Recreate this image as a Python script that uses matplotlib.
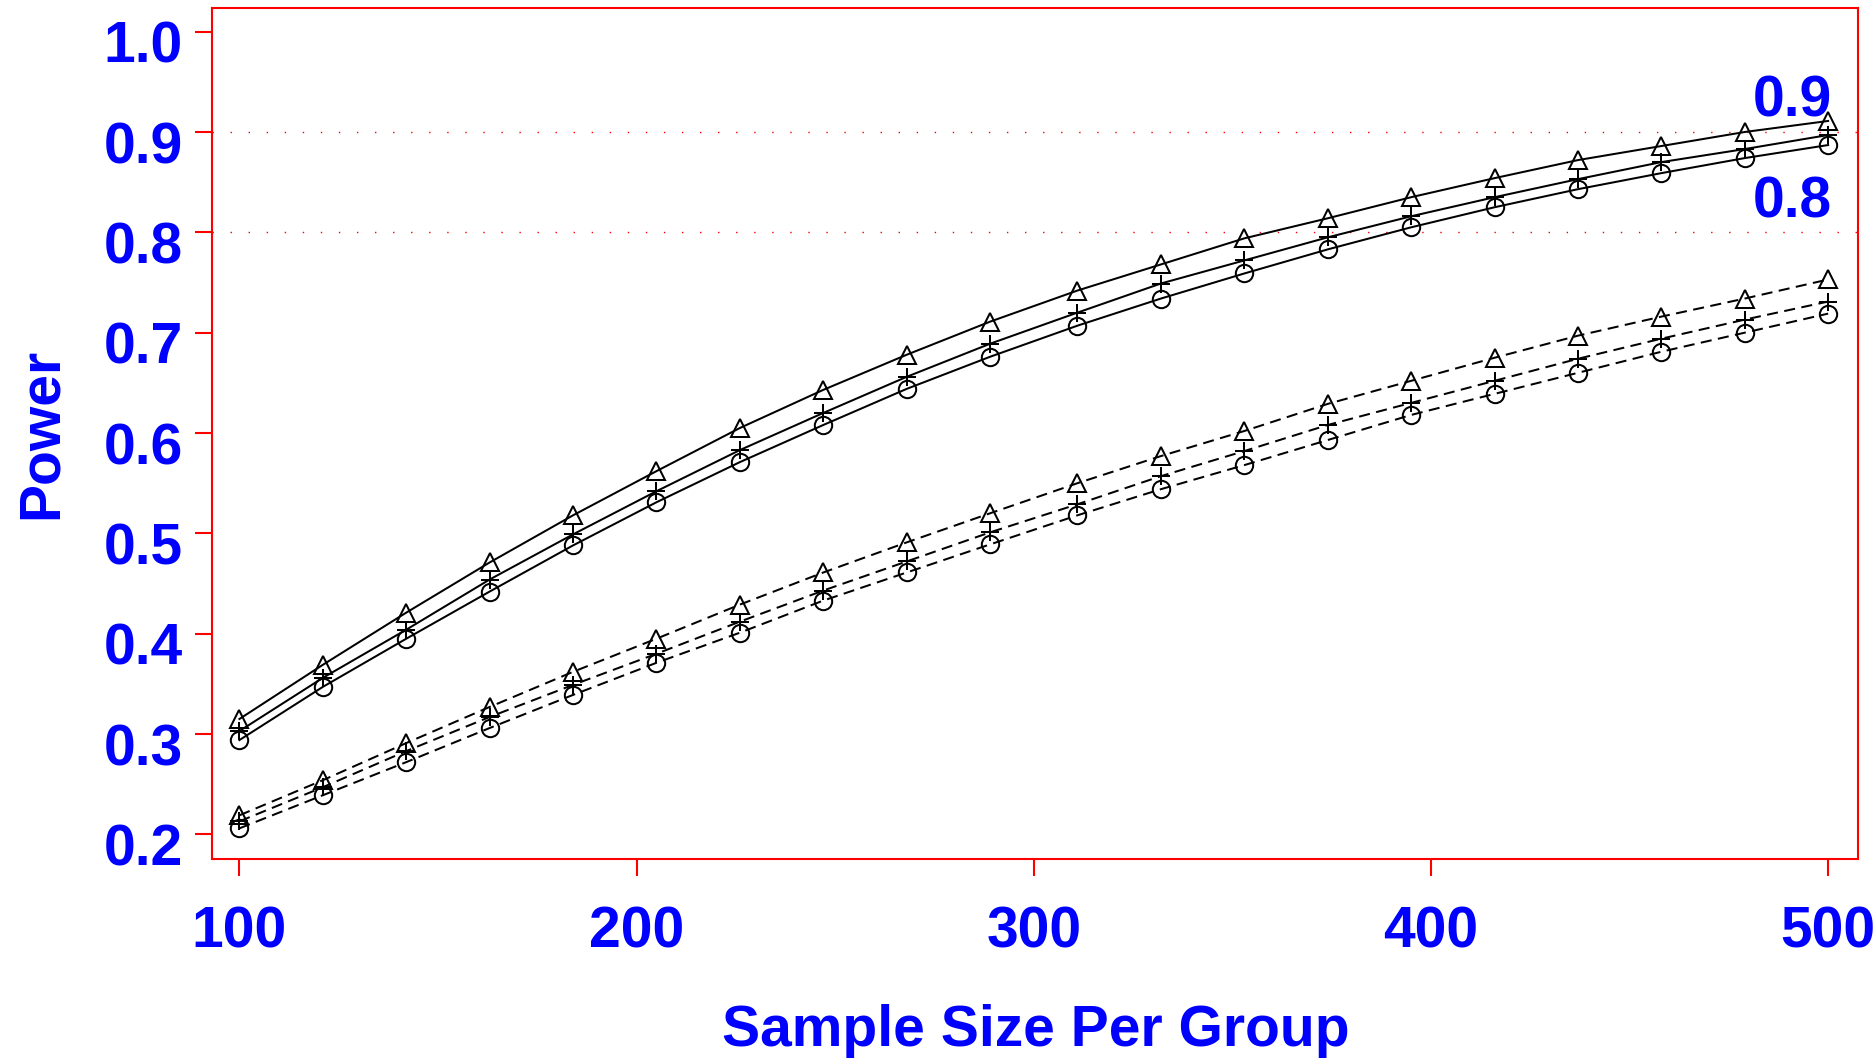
import matplotlib
matplotlib.use("Agg")
import matplotlib.pyplot as plt
from matplotlib.transforms import ScaledTranslation

# Sample sizes per group
sample_size = [100, 121, 142, 163, 184, 205, 226, 247, 268, 289,
               311, 332, 353, 374, 395, 416, 437, 458, 479, 500]

# Power curves, upper group (solid lines)
power_solid_tri = [0.315, 0.369, 0.421, 0.471, 0.518, 0.562, 0.605, 0.643, 0.678, 0.711,
                   0.742, 0.768, 0.794, 0.814, 0.835, 0.854, 0.872, 0.886, 0.900, 0.911]
power_solid_plus = [0.303, 0.356, 0.404, 0.454, 0.499, 0.542, 0.583, 0.620, 0.656, 0.689,
                    0.720, 0.749, 0.772, 0.795, 0.816, 0.835, 0.853, 0.870, 0.883, 0.897]
power_solid_circ = [0.294, 0.347, 0.395, 0.442, 0.488, 0.531, 0.571, 0.608, 0.644, 0.676,
                    0.707, 0.734, 0.759, 0.783, 0.805, 0.825, 0.843, 0.859, 0.874, 0.887]

# Power curves, lower group (dashed lines)
power_dash_tri = [0.219, 0.254, 0.291, 0.327, 0.362, 0.395, 0.429, 0.461, 0.491, 0.520,
                  0.550, 0.577, 0.602, 0.629, 0.652, 0.675, 0.697, 0.716, 0.734, 0.753]
power_dash_plus = [0.213, 0.247, 0.283, 0.317, 0.349, 0.380, 0.412, 0.443, 0.472, 0.501,
                   0.529, 0.557, 0.582, 0.608, 0.630, 0.652, 0.674, 0.694, 0.713, 0.731]
power_dash_circ = [0.206, 0.239, 0.272, 0.306, 0.339, 0.371, 0.401, 0.433, 0.461, 0.489,
                   0.518, 0.544, 0.568, 0.593, 0.618, 0.639, 0.660, 0.681, 0.700, 0.719]

y_ticks = [0.2, 0.3, 0.4, 0.5, 0.6, 0.7, 0.8, 0.9, 1.0]
x_ticks = [100, 200, 300, 400, 500]
ref_lines = [0.9, 0.8]
group_labels = ["0.9", "0.8"]
group_label_y = [0.915, 0.815]

BLUE = "#0000ff"
RED = "#ff0000"
FONT = "Liberation Sans"
FS = 41

fig = plt.figure(figsize=(18.75, 10.62), dpi=100)
ax = fig.add_axes([0.1133, 0.1911, 0.9911 - 0.1133, 0.9922 - 0.1911])

# reference lines
for r in ref_lines:
    ax.axhline(r, color=RED, lw=1.0, linestyle=(0, (1, 12)), zorder=1)

line_kw = dict(color="black", lw=1.45, markeredgewidth=1.45, fillstyle="none", zorder=3)
dash = (0, (5.5, 3.2))
ax.plot(sample_size, power_solid_tri, marker="^", markersize=12.5, linestyle="-", **line_kw)
ax.plot(sample_size, power_solid_plus, marker="+", markersize=13, linestyle="-", **line_kw)
ax.plot(sample_size, power_solid_circ, marker="o", markersize=12.5, linestyle="-", **line_kw)
ax.plot(sample_size, power_dash_tri, marker="^", markersize=12.5, linestyle=dash, **line_kw)
ax.plot(sample_size, power_dash_plus, marker="+", markersize=13, linestyle=dash, **line_kw)
ax.plot(sample_size, power_dash_circ, marker="o", markersize=12.5, linestyle=dash, **line_kw)

for lab, yv in zip(group_labels, group_label_y):
    ax.text(501, yv, lab, ha="right", va="baseline", color=BLUE,
            fontsize=FS, fontweight="bold", family=FONT)

ax.set_xlim(93.2, 507.6)
ax.set_ylim(0.1754, 1.0233)
ax.set_xticks(x_ticks)
ax.set_xticklabels([str(v) for v in x_ticks])
ax.set_yticks(y_ticks)
ax.set_yticklabels([f"{v:.1f}" for v in y_ticks])

for s in ax.spines.values():
    s.set_color(RED)
    s.set_linewidth(1.5)

ax.tick_params(axis="both", direction="out", color=RED, width=1.5, length=12.3,
               labelcolor=BLUE, labelsize=FS)
ax.tick_params(axis="y", pad=9)
ax.tick_params(axis="x", pad=21)
for lab in ax.get_xticklabels() + ax.get_yticklabels():
    lab.set_fontweight("bold")
    lab.set_family(FONT)
# y tick labels sit a little below their ticks
offset = ScaledTranslation(0, -10 / 100, fig.dpi_scale_trans)
for lab in ax.get_yticklabels():
    lab.set_transform(lab.get_transform() + offset)

ax.set_xlabel("Sample Size Per Group", color=BLUE, fontsize=FS, fontweight="bold", family=FONT)
ax.xaxis.label.set_va("baseline")
ax.xaxis.set_label_coords(0.5, -0.22)
ax.set_ylabel("Power", color=BLUE, fontsize=FS, fontweight="bold", family=FONT)
ax.yaxis.label.set_va("center")
ax.yaxis.label.set_ha("center")
ax.yaxis.set_label_coords(-0.104, 0.5)

fig.savefig("out.png", dpi=100, facecolor="white")
